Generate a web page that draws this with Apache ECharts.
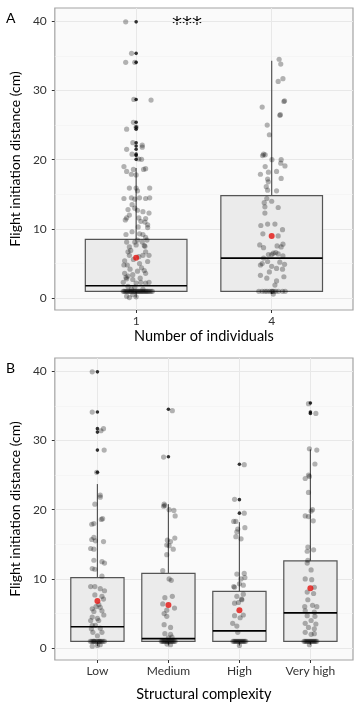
<!DOCTYPE html>
<html><head><meta charset="utf-8">
<script src="https://cdn.jsdelivr.net/npm/echarts@6/dist/echarts.min.js"></script>
<style>html,body{margin:0;padding:0;background:#fff}#c{width:360px;height:707px}</style>
</head><body><div id="c"></div>
<script>
const catsA = ['1', '4'];
const catsB = ['Low', 'Medium', 'High', 'Very high'];
const yTicks = [0, 10, 20, 30, 40];
const yMinor = [5, 15, 25, 35];
const titleA = 'Number of individuals';
const titleB = 'Structural complexity';
const yTitle = 'Flight initiation distance (cm)';
// box stats: [min, Q1, median, Q3, upper whisker]
const boxA = [[0.1, 1.0, 1.8, 8.5, 18.8], [0.6, 1.0, 5.8, 14.8, 34.3]];
const boxB = [[0.3, 1.0, 3.1, 10.2, 23.7], [0.5, 1.0, 1.4, 10.8, 20.8], [0.4, 1.0, 2.5, 8.2, 18.2], [0.5, 1.0, 5.1, 12.6, 28.7]];
const meanA = [5.86, 9.0];
const meanB = [6.8, 6.25, 5.5, 8.66];
const outA = [[39.9, 35.35, 34.05, 28.7, 25.4, 24.7, 24.4, 22.45, 21.98, 21.5, 20.8, 20.6, 20.05], []];
const outB = [[39.9, 34.1, 31.7, 31.2, 28.6, 25.4], [34.5, 27.65], [26.55, 21.45, 19.5], [35.4, 34.1, 33.9]];
// jittered observations: [offset from category (category units), value]
const jitA1 = [
[-0.077,39.9],[-0.034,35.35],[-0.077,34.05],[-0.01,34.05],[-0.017,28.7],[0.11,28.6],[-0.02,25.4],[-0.07,24.4],[0.0,24.7],[-0.024,22.45],[0.045,22.1],[0.045,21.8],[-0.07,21.5],[-0.03,20.8],[0.02,20.1],[0.04,20.05],
[-0.09,19.0],[-0.07,18.3],[-0.035,17.9],[-0.02,18.6],[0.055,18.6],[0.07,18.7],[0.0,17.8],
[-0.05,15.9],[0.0,15.9],[0.10,15.9],[0.01,15.5],[-0.09,14.4],[-0.035,14.5],[-0.01,14.3],[0.025,14.5],[0.07,14.4],[0.10,14.5],[-0.03,13.5],[-0.06,12.8],[-0.01,13.0],[0.01,12.7],[0.05,12.5],[0.095,12.3],[-0.05,12.0],[-0.07,11.6],[-0.08,11.3],[0.07,11.5],[0.065,11.0],[0.085,10.6],[0.02,11.6],[0.035,11.1],[0.085,10.2],
[-0.075,9.2],[0.025,9.3],[0.05,9.2],[0.07,8.8],[0.01,8.4],[0.045,8.1],[-0.07,8.1],[-0.01,8.1],[-0.05,7.4],[0.0,7.7],[0.06,7.6],[0.065,7.5],[0.07,6.7],[-0.06,6.7],[-0.05,6.2],[0.05,6.2],[0.095,6.2],[-0.085,5.4],[-0.065,4.8],[0.025,5.0],[0.085,5.3],[-0.085,3.6],[-0.06,3.2],[-0.025,3.4],[0.01,3.9],[0.07,3.6],[-0.07,2.8],[-0.025,2.7],[-0.095,2.3],[0.0,2.2],[0.035,2.3],[0.07,2.2],[0.095,2.3],[-0.06,1.7],[-0.01,1.6],[-0.035,1.3],[0.05,1.3],
[-0.04,6.9],[0.02,6.0],[-0.02,5.6],[0.04,4.4],[-0.045,4.2],[0.06,4.0],[-0.075,3.0],[0.03,2.9],[-0.09,4.8],[0.08,8.4],[-0.03,9.6],[0.015,10.3],
[-0.095,1],[-0.088,1],[-0.08,1],[-0.072,1],[-0.065,1],[-0.058,1],[-0.05,1],[-0.043,1],[-0.036,1],[-0.028,1],[-0.02,1],[-0.013,1],[-0.006,1],[0.0,1],[0.008,1],[0.015,1],[0.022,1],[0.03,1],[0.037,1],[0.045,1],[0.052,1],[0.06,1],[0.068,1],[0.075,1],[0.083,1],[0.09,1],[0.1,1],[0.11,1],[0.12,1],
[-0.07,0.3],[-0.025,0.5],[0.0,0.2],[-0.05,0.1]
];
const jitA4 = [
[0.055,34.5],[0.067,33.8],[0.048,31.3],[0.083,31.7],[0.095,28.5],[0.09,28.4],[-0.07,27.6],[0.064,26.5],[0.06,26.4],[-0.033,25.0],[-0.017,23.6],[-0.06,20.8],[-0.048,20.7],[-0.067,20.6],[0.002,20.0],[0.07,20.0],[0.067,19.5],[0.098,19.1],[-0.048,19.0],[0.036,18.3],[-0.083,17.9],[-0.024,18.2],[0.07,17.3],[-0.03,17.2],[-0.025,16.8],[-0.04,16.1],[-0.03,15.6],[0.036,15.5],[-0.036,14.4],[0,14.0],[-0.055,13.8],[0.048,13.1],[-0.05,13.2],[-0.05,12.3],
[-0.08,10.5],[-0.03,10.7],[0.024,10.7],[0.08,9.9],[-0.065,9.3],[0.048,9.0],[-0.088,7.7],[-0.06,7.3],[0.083,7.8],[0.04,7.55],[0.07,7.4],[0.012,6.5],[0.03,6.6],[0.048,6.4],[0,6.3],[-0.024,6.3],[0.083,6.1],[-0.06,5.8],[-0.07,5.0],[-0.03,5.3],[0.06,5.2],[0.095,4.9],[-0.083,4.8],[0,4.6],[0.036,4.3],[0.08,4.2],[-0.017,3.8],[-0.083,3.3],[-0.036,2.9],[0.09,3.1],[0.036,2.5],[0.024,1.9],
[-0.095,1],[-0.07,1],[-0.05,1],[-0.035,1],[-0.015,1],[0,1],[0.005,1],[0.015,1],[0.03,1],[0.05,1],[0.08,1],[0.1,1],
[0.012,0.6]
];
const jitLow = [
[-0.073,39.9],[-0.073,34.1],[0.086,31.7],[0.05,31.4],[0.095,28.6],[-0.01,25.4],[0.04,22.1],[0.04,21.8],[-0.036,20.8],[-0.05,18.0],[-0.08,17.9],[0.055,18.6],[0.073,18.7],[-0.05,16.0],[-0.08,15.7],[-0.027,15.5],[0.086,15.4],[-0.05,14.3],[-0.095,14.4],[-0.05,12.7],[0.064,12.5],[0.1,12.3],[-0.073,11.5],[-0.036,11.4],[0.064,10.4],
[-0.036,8.9],[0.04,8.6],[-0.095,8.9],[0.1,8.3],[-0.036,7.7],[0.064,7.5],[0.086,7.1],[-0.073,5.7],[0.04,5.9],[-0.05,5.3],[0.064,5.4],[-0.073,4.5],[0,4.3],[-0.095,4.0],[0.018,4.0],[-0.073,3.3],[-0.027,3.3],[0.04,2.9],[-0.064,2.3],[0.064,2.3],[0,1.8],[0.02,6.3],[-0.02,6.0],[0.09,4.8],[-0.085,2.8],
[-0.1,1],[-0.08,1],[-0.06,1],[-0.05,1],[-0.04,1],[-0.02,1],[0,1],[0.02,1],[0.03,1],[0.04,1],[0.06,1],[0.08,1],[0.1,1],
[-0.073,0.3],[0,0.4],[0.04,0.5]
];
const jitMed = [
[0.055,34.3],[-0.068,27.6],[-0.06,20.8],[-0.05,20.6],[-0.068,20.5],[0.01,20.0],[0.077,19.9],[0.095,19.1],[-0.014,15.6],[0.03,15.4],[0.09,15.9],[-0.023,14.9],[0.01,14.8],[0.068,14.3],[-0.023,13.5],[-0.08,11.2],[0.01,10.0],[0.04,9.8],[0.055,7.5],[-0.05,7.3],[-0.08,6.4],[0.086,5.8],[-0.023,5.5],[-0.06,5.0],[-0.023,4.6],[-0.06,3.4],[0.03,3.0],[-0.05,2.1],[0.03,2.0],[0.0,1.5],[0.05,1.6],
[-0.1,1],[-0.085,1],[-0.07,1],[-0.055,1],[-0.04,1],[-0.025,1],[-0.01,1],[0.005,1],[0.02,1],[0.035,1],[0.05,1],[0.065,1],[0.08,1],[0.095,1],
[-0.02,0.6],[0.03,0.5]
];
const jitHigh = [
[0.068,26.5],[-0.068,21.5],[0.068,19.5],[-0.08,18.3],[-0.05,18.3],[-0.023,17.2],[0.077,17.4],[-0.036,16.8],[-0.05,16.1],[0.023,15.8],[-0.036,10.7],[0.068,10.8],[0.023,10.0],[0.077,10.2],[0,9.3],[-0.08,8.9],[0.055,9.1],[-0.068,8.8],[0.055,7.8],[-0.036,7.5],[0.03,7.1],[0.035,7.0],[-0.068,6.5],[-0.014,6.6],[0.055,4.8],[-0.068,4.7],[0.01,4.4],[-0.095,3.6],[-0.036,3.2],[-0.023,2.3],
[-0.09,1],[-0.075,1],[-0.06,1],[-0.045,1],[-0.03,1],[-0.015,1],[0,1],[0.015,1],[0.03,1],[0.045,1],[0.06,1],[0.075,1],[0.09,1],
[0.0,0.4]
];
const jitVH = [
[-0.027,35.3],[0.077,33.9],[-0.014,28.8],[0.09,28.6],[0.064,26.6],[-0.073,24.5],[-0.027,25.0],[-0.014,24.8],[-0.027,22.5],[0.03,20.0],[0.01,19.8],[-0.073,19.1],[-0.027,19.0],[0.04,18.4],[-0.036,14.6],[-0.045,14.0],[0.045,14.2],[-0.036,12.7],[-0.045,12.3],[0.01,11.3],[-0.073,10.0],[0.018,9.9],[0.055,8.8],[-0.045,8.1],[0.045,7.9],[-0.036,7.0],[-0.08,6.0],[0.03,6.2],[0.09,6.0],[-0.073,5.4],[0.055,5.2],[-0.045,4.7],[0.064,4.6],[0.01,4.0],[-0.073,3.6],[0.077,3.5],[-0.027,3.0],[0.055,2.8],[-0.073,2.3],[0.01,2.0],[0.055,2.1],
[-0.09,1],[-0.075,1],[-0.06,1],[-0.045,1],[-0.03,1],[-0.015,1],[0,1],[0.015,1],[0.03,1],[0.045,1],[0.06,1],[0.075,1],[0.09,1],
[-0.014,0.5]
];
const jitA = [jitA1, jitA4];
const jitB = [jitLow, jitMed, jitHigh, jitVH];

const FONT = 'Lato';
const chart = echarts.init(document.getElementById('c'), null, {renderer: 'canvas'});

function boxRender(params, api) {
  const x = api.value(0);
  const w = api.size([0.75, 0])[0];
  const pMin = api.coord([x, api.value(1)]);
  const pQ1 = api.coord([x, api.value(2)]);
  const pMed = api.coord([x, api.value(3)]);
  const pQ3 = api.coord([x, api.value(4)]);
  const pMax = api.coord([x, api.value(5)]);
  const cx = pQ1[0];
  const ls = {stroke: '#555', lineWidth: 1.2};
  return {type: 'group', children: [
    {type: 'line', shape: {x1: cx, y1: pQ3[1], x2: cx, y2: pMax[1]}, style: ls},
    {type: 'line', shape: {x1: cx, y1: pQ1[1], x2: cx, y2: pMin[1]}, style: ls},
    {type: 'rect', shape: {x: cx - w / 2, y: pQ3[1], width: w, height: pQ1[1] - pQ3[1]}, style: {fill: '#ebebeb', stroke: '#555', lineWidth: 1.2}},
    {type: 'line', shape: {x1: cx - w / 2, y1: pMed[1], x2: cx + w / 2, y2: pMed[1]}, style: {stroke: '#000', lineWidth: 1.7}}
  ]};
}

function panelSeries(gi, cats, box, means, outs, jits) {
  const gridLines = [];
  yMinor.forEach(v => gridLines.push({yAxis: v, lineStyle: {color: '#f2f2f2', width: 0.6, type: 'solid'}}));
  yTicks.forEach(v => gridLines.push({yAxis: v, lineStyle: {color: '#e8e8e8', width: 1, type: 'solid'}}));
  cats.forEach((c, k) => gridLines.push({xAxis: k + 1, lineStyle: {color: '#e8e8e8', width: 1, type: 'solid'}}));
  const jitData = [];
  jits.forEach((arr, k) => arr.forEach(p => jitData.push([k + 1 + p[0], p[1]])));
  const outData = [];
  outs.forEach((arr, k) => arr.forEach(v => outData.push([k + 1, v])));
  return [
    {type: 'scatter', xAxisIndex: gi, yAxisIndex: gi, data: [], z: 1, silent: true,
     markLine: {silent: true, z: 1, symbol: ['none', 'none'], label: {show: false}, animation: false, data: gridLines}},
    {type: 'custom', xAxisIndex: gi, yAxisIndex: gi, z: 3, renderItem: boxRender,
     encode: {x: 0, y: [1, 2, 3, 4, 5]},
     data: box.map((b, k) => [k + 1].concat(b))},
    {type: 'scatter', xAxisIndex: gi, yAxisIndex: gi, z: 4, symbolSize: 3.6,
     itemStyle: {color: '#000'}, data: outData},
    {type: 'scatter', xAxisIndex: gi, yAxisIndex: gi, z: 5, symbolSize: 5.2,
     itemStyle: {color: 'rgba(0,0,0,0.36)'}, data: jitData},
    {type: 'scatter', xAxisIndex: gi, yAxisIndex: gi, z: 6, symbolSize: 6,
     itemStyle: {color: '#e3130f'}, data: means.map((m, k) => [k + 1, m])}
  ];
}

function xAxisCfg(gi, cats, name, nameGap) {
  const vals = cats.map((c, k) => k + 1);
  return {gridIndex: gi, type: 'value', min: 0.4, max: cats.length + 0.6,
    splitLine: {show: false}, axisLine: {show: false, onZero: false},
    axisTick: {show: true, customValues: vals, length: 3, lineStyle: {color: '#333', width: 1}},
    axisLabel: {customValues: vals, formatter: v => cats[Math.round(v) - 1], color: '#333', fontSize: 12, margin: 5, fontFamily: FONT},
    name: name, nameLocation: 'middle', nameGap: nameGap,
    nameTextStyle: {fontSize: 14.5, color: '#000', fontFamily: FONT}};
}
function yAxisCfg(gi) {
  return {gridIndex: gi, type: 'value', min: -1.7, max: 41.9,
    splitLine: {show: false}, axisLine: {show: false, onZero: false},
    axisTick: {show: true, customValues: yTicks, length: 3, lineStyle: {color: '#333', width: 1}},
    axisLabel: {customValues: yTicks, color: '#333', fontSize: 12, margin: 8, fontFamily: FONT},
    name: yTitle, nameLocation: 'middle', nameGap: 24,
    nameTextStyle: {fontSize: 14, color: '#000', fontFamily: FONT}};
}

const option = {
  animation: false,
  textStyle: {fontFamily: FONT},
  grid: [
    {left: 45, top: 8, width: 308, height: 302, show: true, backgroundColor: '#fafafa', borderColor: '#a3a3a3', borderWidth: 1.2},
    {left: 45, top: 358, width: 308, height: 302, show: true, backgroundColor: '#fafafa', borderColor: '#a3a3a3', borderWidth: 1.2}
  ],
  xAxis: [xAxisCfg(0, catsA, titleA, 19), xAxisCfg(1, catsB, titleB, 27)],
  yAxis: [yAxisCfg(0), yAxisCfg(1)],
  graphic: [
    {type: 'text', left: 6, top: 11, style: {text: 'A', fontSize: 14, fill: '#000', fontFamily: FONT}},
    {type: 'text', left: 6, top: 361, style: {text: 'B', fontSize: 14, fill: '#000', fontFamily: FONT}},
    {type: 'text', left: 172, top: 15, style: {text: '***', fontSize: 20, fill: '#000', fontFamily: 'DejaVu Sans'}}
  ],
  series: [].concat(
    panelSeries(0, catsA, boxA, meanA, outA, jitA),
    panelSeries(1, catsB, boxB, meanB, outB, jitB)
  )
};
chart.setOption(option);
</script></body></html>
